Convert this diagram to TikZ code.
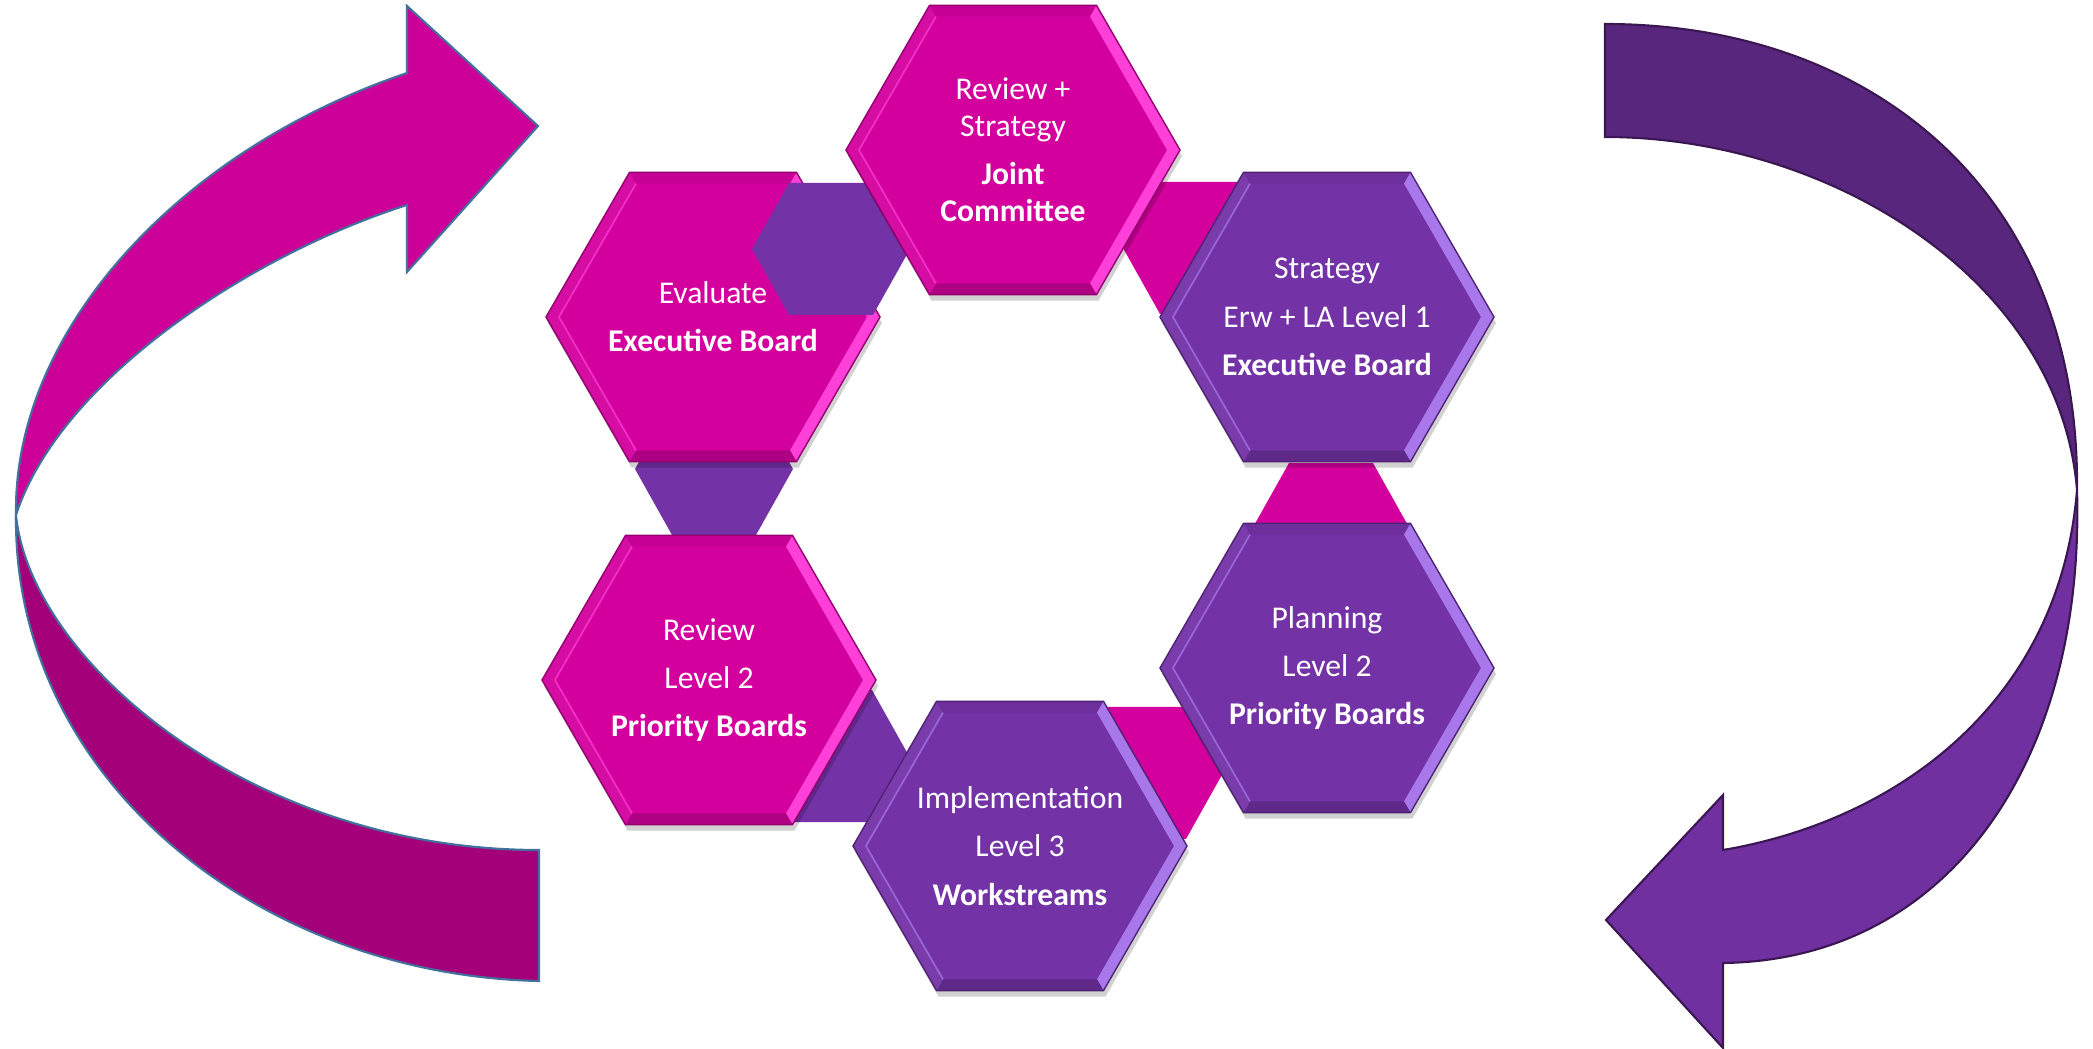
\documentclass[tikz,border=0pt]{standalone}
\usepackage{fontspec}
\setmainfont{Carlito}
\usetikzlibrary{calc}

\definecolor{magbase}{HTML}{D4009E}
\definecolor{magbright}{HTML}{FF40D8}
\definecolor{purbase}{HTML}{7332A6}
\definecolor{purbright}{HTML}{A878EA}
\definecolor{pinkarrow}{HTML}{CC0099}
\definecolor{pinkarrowdark}{HTML}{A3007A}
\definecolor{pinkarrowline}{HTML}{41719C}
\definecolor{purarrow}{HTML}{7030A0}
\definecolor{purarrowdark}{HTML}{58267C}
\definecolor{purarrowline}{HTML}{3A1752}

\tikzset{
  hextext/.style={text=white, align=center, inner sep=0pt, font=\fontsize{9}{13.7}\selectfont},
}

% big bevelled hexagon: name, x, y, base colour, bright colour
\newcommand{\bighex}[5]{%
  \coordinate (#1) at (#2,#3);
  \fill[black, opacity=.18] ([shift={(2,6)}]#1) +(0:167) -- +(60:167) -- +(120:167) -- +(180:167) -- +(240:167) -- +(300:167) -- cycle;
  \fill[#4] (#1) +(0:167) -- +(60:167) -- +(120:167) -- +(180:167) -- +(240:167) -- +(300:167) -- cycle;
  \foreach \a/\b/\c in {0/60/#5, 60/120/#4!82!black, 120/180/#4!95!white, 180/240/#4!95!white, 240/300/#4!94!black, 300/360/#5}
    \fill[fill=\c] (#1) +(\a:167) -- +(\b:167) -- +(\b:154) -- +(\a:154) -- cycle;
  \draw[#5, opacity=.7, line width=.5pt] (#1) +(120:154) -- +(180:154) -- +(240:154);
  \draw[#4!70!black, line width=.4pt] (#1) +(0:167) -- +(60:167) -- +(120:167) -- +(180:167) -- +(240:167) -- +(300:167) -- cycle;
}

% small linking hexagon: name, x, y, colour
\newcommand{\linkhex}[4]{%
  \coordinate (#1) at (#2,#3);
  \fill[#4] (#1) +(79,0) -- +(42,66) -- +(-42,66) -- +(-79,0) -- +(-42,-66) -- +(42,-66) -- cycle;
}

\begin{document}
\begin{tikzpicture}[x=0.01cm, y=-0.01cm]
\useasboundingbox (0,0) rectangle (2093,1049);

% left arrow, back part
\fill[pinkarrowdark, draw=pinkarrowline, line width=.6pt] (16,515) .. controls (13,780) and (260,975) .. (539,981)
  -- (539,850) .. controls (250,850) and (30,660) .. (16,515) -- cycle;
% left arrow, front part with head
\fill[pinkarrow, draw=pinkarrowline, line width=.6pt] (16,515) .. controls (13,330) and (180,150) .. (407,73)
  -- (407,6) -- (538,126) -- (407,272) -- (407,205) .. controls (250,255) and (60,380) .. (16,515) -- cycle;

% right arrow, back part
\fill[purarrowdark, draw=purarrowline, line width=.6pt] (1605,24) .. controls (1870,24) and (2080,190) .. (2077,490)
  .. controls (2060,280) and (1830,137) .. (1605,137) -- cycle;
% right arrow, front part with head
\fill[purarrow, draw=purarrowline, line width=.6pt] (2077,490) .. controls (2085,760) and (1950,960) .. (1723,963)
  -- (1723,1048) -- (1606,920) -- (1723,795) -- (1723,850) .. controls (1900,820) and (2060,700) .. (2077,490) -- cycle;

% links under the ring
\linkhex{linkjs}{1202}{248}{magbase}
\linkhex{linksp}{1331}{529}{magbase}
\linkhex{linkpi}{1144}{773}{magbase}
\linkhex{linkir}{830}{756}{purbase}
\linkhex{linkre}{714}{469}{purbase}

\bighex{eval}{713}{317}{magbase}{magbright}
\linkhex{linkej}{831}{249}{purbase}

\bighex{joint}{1013}{150}{magbase}{magbright}
\bighex{strat}{1327}{317}{purbase}{purbright}
\bighex{plan}{1327}{668}{purbase}{purbright}
\bighex{impl}{1020}{846}{purbase}{purbright}
\bighex{review}{709}{680}{magbase}{magbright}

% texts
\node[hextext, font=\fontsize{9}{10.5}\selectfont] (jointtext) at (joint) {Review +\\Strategy\\[3.2pt]\textbf{Joint}\\\textbf{Committee}};
\node[hextext] (evaltext) at (eval) {Evaluate\\\textbf{Executive Board}};
\node[hextext] (strattext) at (strat) {Strategy\\Erw + LA Level 1\\\textbf{Executive Board}};
\node[hextext] (plantext) at (plan) {Planning\\Level 2\\\textbf{Priority Boards}};
\node[hextext] (impltext) at (impl) {Implementation\\Level 3\\\textbf{Workstreams}};
\node[hextext] (reviewtext) at (review) {Review\\Level 2\\\textbf{Priority Boards}};

\end{tikzpicture}
\end{document}
